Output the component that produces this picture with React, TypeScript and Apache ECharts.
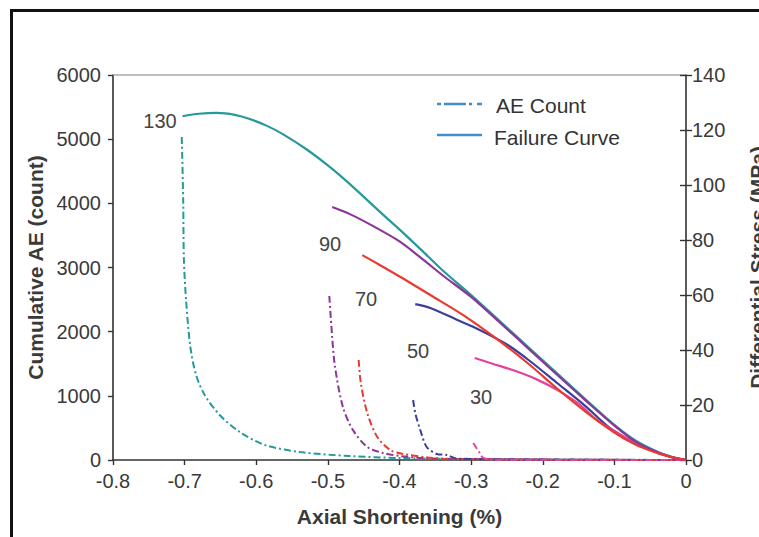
import React, { useEffect, useRef } from "react";
import * as echarts from "echarts";

// Confining pressures (MPa) of the five tests
const pressures = ["130", "90", "70", "50", "30"];
const colors = ["#249a9b", "#8b3699", "#e83a30", "#3b3f99", "#e0459a"];

// Differential stress (MPa) vs axial shortening (%) – failure curves
const stress130: [number, number][] = [
  [-0.703, 125.0], [-0.68, 125.9], [-0.655, 126.2], [-0.63, 125.5], [-0.609, 124.0],
  [-0.585, 121.5], [-0.563, 118.5], [-0.53, 113.0], [-0.497, 106.5], [-0.47, 100.5],
  [-0.445, 94.5], [-0.42, 88.5], [-0.399, 83.6], [-0.37, 76.5], [-0.34, 69.0],
  [-0.30, 60.0], [-0.26, 50.5], [-0.22, 41.0], [-0.18, 31.5], [-0.14, 22.0],
  [-0.10, 12.8], [-0.07, 7.0], [-0.04, 3.0], [-0.02, 1.2], [0, 0],
];
const stress90: [number, number][] = [
  [-0.494, 92.0], [-0.47, 89.5], [-0.44, 85.5], [-0.40, 79.5], [-0.37, 73.5],
  [-0.339, 67.0], [-0.30, 59.3], [-0.26, 50.0], [-0.22, 40.5], [-0.18, 31.0],
  [-0.14, 21.6], [-0.10, 12.5], [-0.07, 6.6], [-0.04, 2.8], [-0.02, 1.0], [0, 0],
];
const stress70: [number, number][] = [
  [-0.452, 74.5], [-0.43, 71.3], [-0.395, 66.0], [-0.357, 60.0], [-0.31, 52.5],
  [-0.264, 44.0], [-0.22, 35.0], [-0.18, 26.0], [-0.14, 17.5], [-0.10, 10.0],
  [-0.07, 5.5], [-0.04, 2.5], [-0.02, 1.0], [0, 0],
];
const stress50: [number, number][] = [
  [-0.378, 56.7], [-0.357, 55.3], [-0.32, 51.0], [-0.288, 47.3], [-0.25, 42.0],
  [-0.218, 36.0], [-0.18, 28.0], [-0.14, 19.5], [-0.106, 11.6], [-0.07, 6.0],
  [-0.04, 2.8], [-0.02, 1.0], [0, 0],
];
const stress30: [number, number][] = [
  [-0.295, 37.1], [-0.27, 35.0], [-0.242, 32.7], [-0.21, 29.5], [-0.18, 25.5],
  [-0.15, 20.5], [-0.124, 14.5], [-0.09, 9.0], [-0.06, 4.7], [-0.03, 1.8], [0, 0],
];

// Cumulative acoustic emission count vs axial shortening (%)
const ae130: [number, number][] = [
  [-0.704, 5034], [-0.702, 4052], [-0.701, 3117], [-0.698, 2494], [-0.692, 1761],
  [-0.684, 1325], [-0.672, 1013], [-0.651, 701], [-0.623, 436], [-0.588, 234],
  [-0.539, 125], [-0.469, 62], [-0.399, 31], [-0.329, 16], [0, 0],
];
const ae90: [number, number][] = [
  [-0.498, 2556], [-0.494, 1917], [-0.49, 1449], [-0.479, 826], [-0.465, 468],
  [-0.445, 203], [-0.423, 109], [-0.399, 62], [-0.35, 20], [0, 0],
];
const ae70: [number, number][] = [
  [-0.457, 1558], [-0.454, 1200], [-0.445, 732], [-0.431, 358], [-0.413, 156],
  [-0.395, 94], [-0.36, 40], [-0.33, 15], [0, 0],
];
const ae50: [number, number][] = [
  [-0.381, 935], [-0.378, 732], [-0.371, 468], [-0.362, 203], [-0.348, 94],
  [-0.334, 78], [-0.32, 20], [0, 0],
];
const ae30: [number, number][] = [
  [-0.297, 265], [-0.288, 109], [-0.283, 31], [-0.27, 5], [0, 0],
];

const xTicks = { min: -0.8, max: 0, step: 0.1 };
const aeTicks = { min: 0, max: 6000, step: 1000 };
const stressTicks = { min: 0, max: 140, step: 20 };

const stressSets = [stress130, stress90, stress70, stress50, stress30];
const aeSets = [ae130, ae90, ae70, ae50, ae30];

const FONT = "'Liberation Sans', Arial, sans-serif";
const TEXT = "#3a3a3a";
const AXIS = "#333333";

export default function App() {
  const ref = useRef<HTMLDivElement>(null);

  useEffect(() => {
    if (!ref.current) return;
    const chart = echarts.init(ref.current, undefined, { renderer: "svg" });

    const fmtX = (v: number) => (Math.abs(v) < 1e-9 ? "0" : v.toFixed(1));
    const fmtInt = (v: number) => String(Math.round(v));

    const aeSeries = aeSets.map((d, i) => ({
      type: "line",
      name: "AE " + pressures[i],
      xAxisIndex: 0,
      yAxisIndex: 0,
      data: d,
      showSymbol: false,
      smooth: 0.3,
      lineStyle: { color: colors[i], width: 2, type: [7, 3, 2, 3] },
      z: 3,
    }));

    // drawing order for the failure curves: 130, 50, 30, 90, 70
    const order = [0, 3, 4, 1, 2];
    const stressSeries = order.map((i, k) => ({
      type: "line",
      name: "Stress " + pressures[i],
      xAxisIndex: 0,
      yAxisIndex: 1,
      data: stressSets[i],
      showSymbol: false,
      smooth: 0.3,
      lineStyle: { color: colors[i], width: 2.2 },
      z: 4 + k,
    }));

    const labelPos: [number, number][] = [
      [160, 121], [330, 244], [366, 299], [418, 351], [481, 397],
    ];

    const titleStyle = { fontSize: 21, fontWeight: "bold", color: TEXT, fontFamily: FONT };

    chart.setOption({
      animation: false,
      grid: { left: 113, right: 73, top: 75, bottom: 77, containLabel: false, outerBoundsMode: "none" },
      xAxis: [
        {
          type: "value",
          position: "bottom",
          min: xTicks.min,
          max: xTicks.max,
          interval: xTicks.step,
          axisLine: { show: true, onZero: false, lineStyle: { color: AXIS, width: 1.6 } },
          axisTick: { show: true, length: 5, lineStyle: { color: AXIS, width: 1.4 } },
          axisLabel: { fontSize: 20, color: TEXT, fontFamily: FONT, margin: 11, formatter: fmtX },
          splitLine: { show: false },
          name: "Axial Shortening (%)",
          nameLocation: "middle",
          nameGap: 46,
          nameTextStyle: titleStyle,
        },
        {
          type: "value",
          position: "top",
          min: xTicks.min,
          max: xTicks.max,
          axisLine: { show: true, onZero: false, lineStyle: { color: "#a8a8a8", width: 1.6 } },
          axisTick: { show: false },
          axisLabel: { show: false },
          splitLine: { show: false },
        },
      ],
      yAxis: [
        {
          type: "value",
          position: "left",
          min: aeTicks.min,
          max: aeTicks.max,
          interval: aeTicks.step,
          axisLine: { show: true, onZero: false, lineStyle: { color: AXIS, width: 1.6 } },
          axisTick: { show: true, length: 5, lineStyle: { color: AXIS, width: 1.4 } },
          axisLabel: { fontSize: 20, color: TEXT, fontFamily: FONT, margin: 12, formatter: fmtInt },
          splitLine: { show: false },
          name: "Cumulative AE (count)",
          nameLocation: "middle",
          nameGap: 62,
          nameTextStyle: titleStyle,
        },
        {
          type: "value",
          position: "right",
          min: stressTicks.min,
          max: stressTicks.max,
          interval: stressTicks.step,
          axisLine: { show: true, onZero: false, lineStyle: { color: AXIS, width: 1.6 } },
          axisTick: { show: true, length: 6, lineStyle: { color: AXIS, width: 1.4 } },
          axisLabel: { fontSize: 20, color: TEXT, fontFamily: FONT, margin: 6, formatter: fmtInt },
          splitLine: { show: false },
          name: "Differential Stress (MPa)",
          nameLocation: "middle",
          nameRotate: 90,
          nameGap: 61,
          nameTextStyle: titleStyle,
        },
        {
          // inner half of the stress-axis ticks
          type: "value",
          position: "right",
          min: stressTicks.min,
          max: stressTicks.max,
          interval: stressTicks.step,
          axisLine: { show: false },
          axisTick: { show: true, inside: true, length: 6, lineStyle: { color: AXIS, width: 1.4 } },
          axisLabel: { show: false },
          splitLine: { show: false },
        },
      ],
      series: [...stressSeries, ...aeSeries],
      graphic: [
        ...pressures.map((p, i) => ({
          type: "text",
          x: labelPos[i][0],
          y: labelPos[i][1],
          z: 10,
          style: {
            text: p,
            fontSize: 20,
            fontFamily: FONT,
            fill: "#444",
            align: "center",
            verticalAlign: "middle",
          },
        })),
        {
          type: "line",
          shape: { x1: 437, y1: 104, x2: 482, y2: 104 },
          style: { stroke: "#3d8fd2", lineWidth: 2.5, lineDash: [4, 3, 22, 3, 3, 5, 4, 0] },
        },
        {
          type: "line",
          shape: { x1: 437, y1: 135, x2: 482, y2: 135 },
          style: { stroke: "#3d8fd2", lineWidth: 2.5 },
        },
        {
          type: "text",
          x: 496,
          y: 105,
          style: { text: "AE Count", fontSize: 21, fontFamily: FONT, fill: "#333", verticalAlign: "middle" },
        },
        {
          type: "text",
          x: 494,
          y: 137,
          style: { text: "Failure Curve", fontSize: 21, fontFamily: FONT, fill: "#333", verticalAlign: "middle" },
        },
      ],
    });

    return () => chart.dispose();
  }, []);

  return (
    <div style={{ position: "absolute", left: 0, top: 0, width: 759, height: 537, overflow: "hidden", background: "#fff" }}>
      <div ref={ref} style={{ position: "absolute", left: 0, top: 0, width: 759, height: 537 }} />
      {/* page frame: only its left and top edges fall inside the picture */}
      <div style={{ position: "absolute", left: 10, top: 9, width: 3, height: 528, background: "#111" }} />
      <div style={{ position: "absolute", left: 10, top: 9, width: 749, height: 3, background: "#111" }} />
    </div>
  );
}
